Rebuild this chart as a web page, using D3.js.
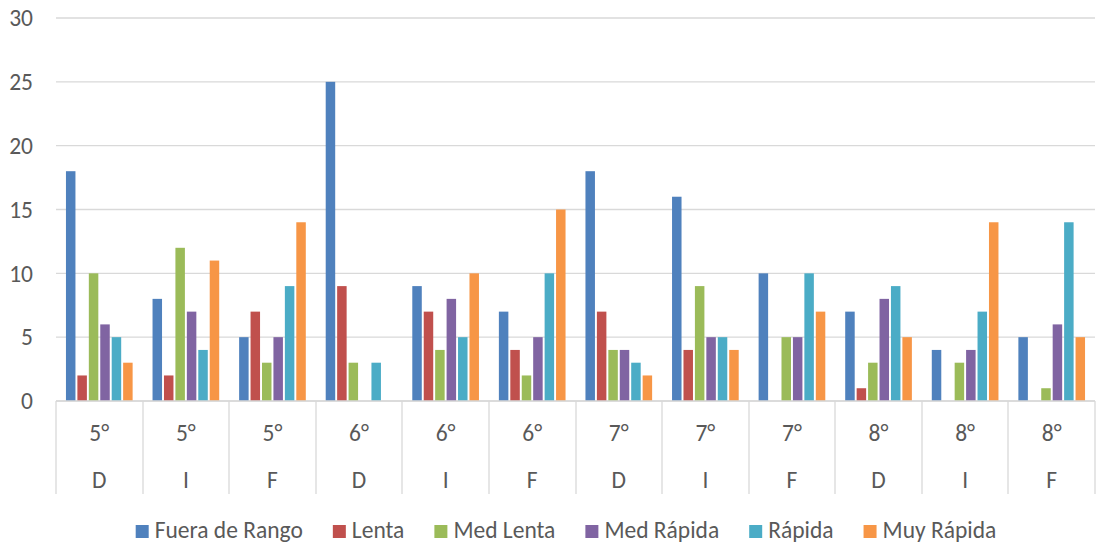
<!DOCTYPE html>
<html>
<head>
<meta charset="utf-8">
<script src="https://cdn.jsdelivr.net/npm/d3@7"></script>
<style>
  body { margin: 0; background: #fff; }
  text { font-family: Carlito, Calibri, Lato, sans-serif; fill: #595959; }
</style>
</head>
<body>
<div class="chart"></div>
<script>
// categories (two level axis)
let grades = ['5°', '5°', '5°', '6°', '6°', '6°', '7°', '7°', '7°', '8°', '8°', '8°']
let phases = ['D', 'I', 'F', 'D', 'I', 'F', 'D', 'I', 'F', 'D', 'I', 'F']

let seriesNames = ['Fuera de Rango', 'Lenta', 'Med Lenta', 'Med Rápida', 'Rápida', 'Muy Rápida']
let colors = ['#4F81BD', '#C0504D', '#9BBB59', '#8064A2', '#4BACC6', '#F79646']

// values per series, one per category
let fueraDeRango = [18, 8, 5, 25, 9, 7, 18, 16, 10, 7, 4, 5]
let lenta        = [2, 2, 7, 9, 7, 4, 7, 4, 0, 1, 0, 0]
let medLenta     = [10, 12, 3, 3, 4, 2, 4, 9, 5, 3, 3, 1]
let medRapida    = [6, 7, 5, 0, 8, 5, 4, 5, 5, 8, 4, 6]
let rapida       = [5, 4, 9, 3, 5, 10, 3, 5, 10, 9, 7, 14]
let muyRapida    = [3, 11, 14, 0, 10, 15, 2, 4, 7, 5, 14, 5]

let yTicks = [0, 5, 10, 15, 20, 25, 30]

let series = [fueraDeRango, lenta, medLenta, medRapida, rapida, muyRapida]

let width = 1096,
    height = 547
let margin = { left: 56, right: 1, top: 18, bottom: 146 }
let plotW = width - margin.left - margin.right,
    plotH = height - margin.top - margin.bottom
let fontSize = '23.5px'

let svg = d3.select('.chart').append('svg')
    .attr('width', width)
    .attr('height', height)

let idx = d3.range(grades.length)

let x0 = d3.scaleBand().domain(idx).range([margin.left, margin.left + plotW])
let x1 = d3.scaleBand().domain(d3.range(series.length))
    .range([x0.bandwidth() * 0.115, x0.bandwidth() * 0.885])
    .paddingInner(0.17)
let y = d3.scaleLinear().domain([0, 30]).range([margin.top + plotH, margin.top])

// gridlines
svg.append('g')
    .selectAll('line')
    .data(yTicks)
    .join('line')
    .attr('x1', margin.left)
    .attr('x2', margin.left + plotW)
    .attr('y1', d => y(d))
    .attr('y2', d => y(d))
    .attr('stroke', '#d9d9d9')
    .attr('stroke-width', 1.3)

// y labels
svg.append('g')
    .selectAll('text')
    .data(yTicks)
    .join('text')
    .attr('x', 33)
    .attr('y', d => y(d))
    .attr('dy', '0.35em')
    .attr('text-anchor', 'end')
    .style('font-size', fontSize)
    .text(d => d)

// bars
let groups = svg.append('g')
    .selectAll('g')
    .data(idx)
    .join('g')
    .attr('transform', i => 'translate(' + x0(i) + ',0)')

groups.selectAll('rect')
    .data(i => series.map((s, k) => ({ k: k, v: s[i] })).filter(d => d.v > 0))
    .join('rect')
    .attr('x', d => x1(d.k))
    .attr('width', x1.bandwidth())
    .attr('y', d => y(d.v))
    .attr('height', d => y(0) - y(d.v))
    .attr('fill', d => colors[d.k])

// category axis
let axisY = y(0)
let axis = svg.append('g')
axis.append('line')
    .attr('x1', margin.left).attr('x2', margin.left + plotW)
    .attr('y1', axisY).attr('y2', axisY)
    .attr('stroke', '#d9d9d9').attr('stroke-width', 1.3)

axis.selectAll('.sep')
    .data(d3.range(grades.length + 1))
    .join('line')
    .attr('class', 'sep')
    .attr('x1', i => Math.round(margin.left + i * x0.step()))
    .attr('x2', i => Math.round(margin.left + i * x0.step()))
    .attr('y1', axisY)
    .attr('y2', 494)
    .attr('stroke', '#d9d9d9')
    .attr('stroke-width', 1.3)

axis.selectAll('.lvl1')
    .data(idx)
    .join('text')
    .attr('class', 'lvl1')
    .attr('x', i => x0(i) + x0.bandwidth() / 2)
    .attr('y', 441)
    .attr('text-anchor', 'middle')
    .style('font-size', fontSize)
    .text(i => grades[i])

axis.selectAll('.lvl2')
    .data(idx)
    .join('text')
    .attr('class', 'lvl2')
    .attr('x', i => x0(i) + x0.bandwidth() / 2)
    .attr('y', 488)
    .attr('text-anchor', 'middle')
    .style('font-size', fontSize)
    .text(i => phases[i])

// legend
let legend = svg.append('g')
let items = legend.selectAll('g')
    .data(seriesNames)
    .join('g')

items.append('rect')
    .attr('width', 13).attr('height', 13)
    .attr('y', -13)
    .attr('fill', (d, k) => colors[k])

items.append('text')
    .attr('x', 19)
    .attr('y', 0)
    .style('font-size', fontSize)
    .text(d => d)

let pos = 0
items.each(function() {
    let w = this.querySelector('text').getComputedTextLength()
    this.setAttribute('transform', 'translate(' + pos + ',0)')
    pos += 19 + w + 30
})
let totalW = pos - 30
legend.attr('transform', 'translate(' + (566 - totalW / 2) + ',538)')
</script>
</body>
</html>
